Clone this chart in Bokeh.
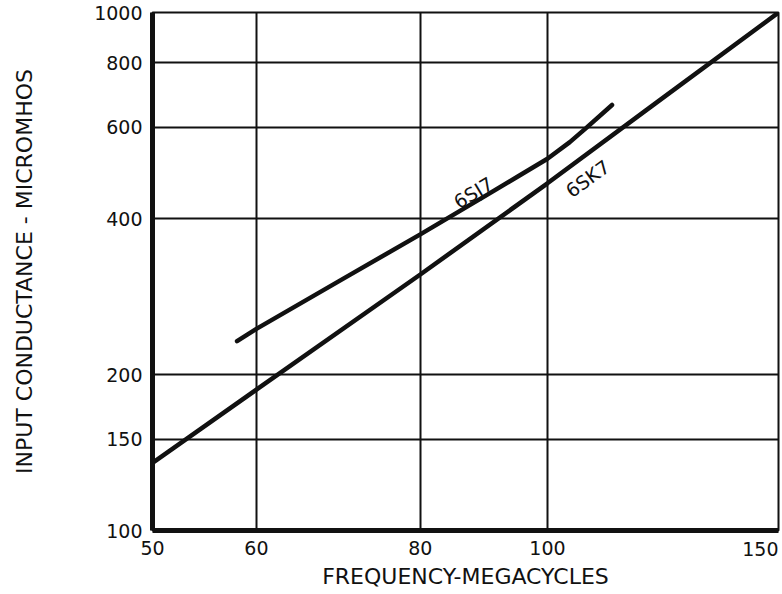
from bokeh.plotting import figure
from bokeh.models import (FixedTicker, NumeralTickFormatter, ColumnDataSource,
                          Range1d, LogAxis)
from bokeh.core.properties import value
from bokeh.embed import file_html
from bokeh.resources import INLINE

# ---- data ----
x_ticks = [50, 60, 80, 100, 150]
x_tick_labels = ["50", "60", "80", "100", "150"]
y_ticks = [100, 150, 200, 400, 600, 800, 1000]
y_tick_labels = ["100", "150", "200", "400", "600", "800", "1000"]

freq_6sj7 = [58, 60, 70, 80, 90, 95, 100, 104, 107, 112]
cond_6sj7 = [232, 245, 307, 373, 445, 483, 522, 562, 598, 663]

freq_6sk7 = [50, 60, 80, 100, 120, 150]
cond_6sk7 = [135, 187, 312, 468, 659, 1000]

curve_names = ["6SJ7", "6SK7"]
x_title = "FREQUENCY-MEGACYCLES"
y_title = "INPUT CONDUCTANCE - MICROMHOS"

# curve-name placement (annotation positions)
name_x = [87.8, 107.3]
name_y = [449, 478]
name_angle = [31, 36]

FONT = "DejaVu Sans"
INK = "#111111"

p = figure(width=782, height=594, x_axis_type="log", y_axis_type="log",
           x_range=Range1d(50, 150), y_range=Range1d(100, 1000),
           output_backend="svg", toolbar_location=None,
           min_border_left=152, min_border_top=12, min_border_right=4,
           min_border_bottom=64)
p.background_fill_color = "white"
p.border_fill_color = "white"
p.outline_line_color = INK
p.outline_line_width = 2

# grids
p.xgrid.ticker = FixedTicker(ticks=x_ticks)
p.ygrid.ticker = FixedTicker(ticks=y_ticks)
for g in (p.xgrid[0], p.ygrid[0]):
    g.grid_line_color = INK
    g.grid_line_width = 2
    g.grid_line_alpha = 1.0


def style_axis(ax):
    ax.formatter = NumeralTickFormatter(format="0")
    ax.major_tick_line_color = None
    ax.minor_tick_line_color = None
    ax.major_tick_out = 0
    ax.major_tick_in = 0
    ax.axis_line_color = INK
    ax.axis_line_width = 5
    ax.major_label_text_font = FONT
    ax.major_label_text_font_size = "19px"
    ax.major_label_text_color = INK
    ax.axis_label_text_font = FONT
    ax.axis_label_text_font_size = "22px"
    ax.axis_label_text_font_style = "normal"
    ax.axis_label_text_color = INK


xa = p.xaxis[0]
ya = p.yaxis[0]
xa.ticker = FixedTicker(ticks=x_ticks[:-1])
ya.ticker = FixedTicker(ticks=y_ticks)
xa.major_label_overrides = {t: l for t, l in zip(x_ticks, x_tick_labels)}
ya.major_label_overrides = {t: l for t, l in zip(y_ticks, y_tick_labels)}
style_axis(xa)
style_axis(ya)

xa.axis_label = x_title
xa.major_label_standoff = 10
xa.axis_label_standoff = 6
ya.axis_label = y_title
ya.major_label_standoff = 10
ya.axis_label_standoff = 54

# the last frequency label sits flush with the right edge of the chart:
# a second bottom axis, pulled back up into the tick-label row
xa_end = LogAxis(ticker=FixedTicker(ticks=x_ticks[-1:]),
                 major_label_overrides={x_ticks[-1]: x_tick_labels[-1]})
style_axis(xa_end)
xa_end.axis_line_color = None
xa_end.major_label_text_align = "right"
xa_end.major_label_orientation = 0.0001
xa_end.major_label_standoff = -43
p.add_layout(xa_end, "below")

# curves
p.line(freq_6sk7, cond_6sk7, line_width=4.5, line_color=INK, line_cap="round")
p.line(freq_6sj7, cond_6sj7, line_width=4.5, line_color=INK, line_cap="round")

src = ColumnDataSource(dict(x=name_x, y=name_y, text=curve_names, angle=name_angle))
p.text("x", "y", "text", angle="angle", angle_units="deg", source=src,
       text_font=value(FONT), text_font_size="19px", text_align="center",
       text_baseline="middle", text_color=INK)

open("out.html", "w").write(file_html(p, INLINE))
